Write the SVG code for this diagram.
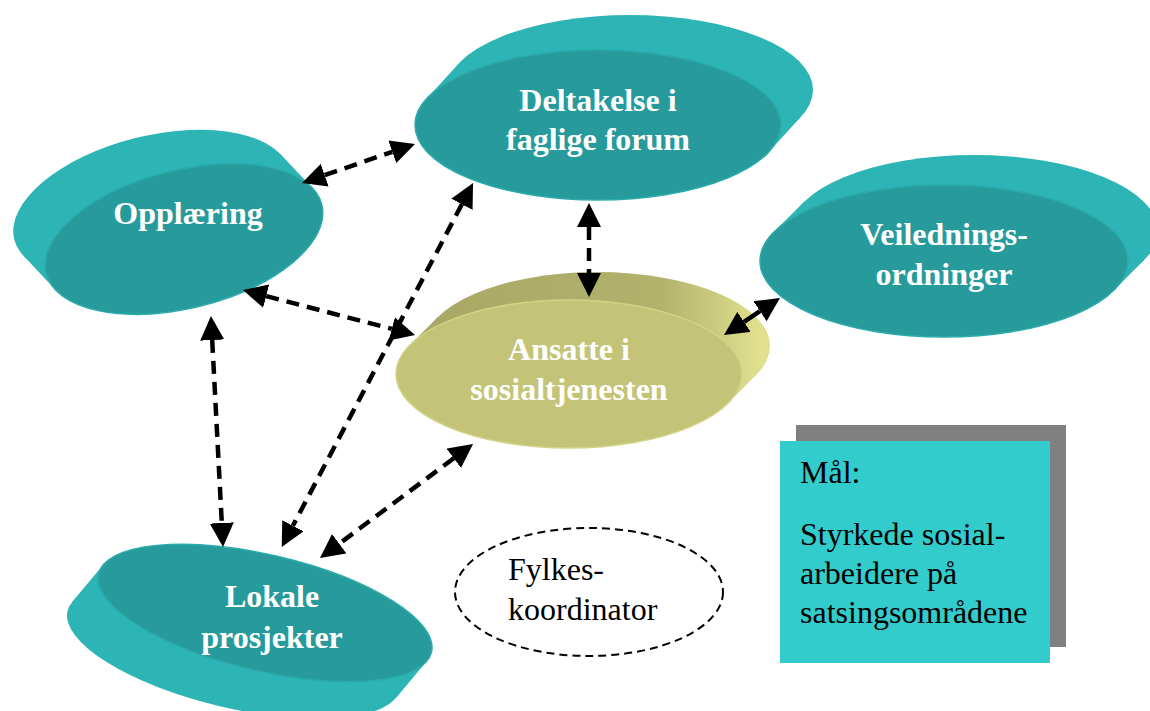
<svg xmlns="http://www.w3.org/2000/svg" width="1150" height="711" viewBox="0 0 1150 711">
  <style>
    .side { fill: #2DB4B4; }
    .front { fill: #279B9B; stroke: #2BAAAA; stroke-width: 1.5; }
    .yfront { fill: #C3C477; stroke: #D2D386; stroke-width: 1.5; }
    .lbl { font-family: "Liberation Serif", "Times New Roman", serif; font-weight: bold; font-size: 32px; fill: #FFFFFF; text-anchor: middle; }
    .txt { font-family: "Liberation Serif", "Times New Roman", serif; font-size: 32px; fill: #000000; }
    .conn { fill: none; stroke: #000; stroke-width: 4.5; stroke-dasharray: 13 8; }
  </style>
  <defs>
    <marker id="ah" markerWidth="24" markerHeight="24" viewBox="0 0 24 24" refX="0" refY="12" orient="auto-start-reverse" markerUnits="userSpaceOnUse">
      <path d="M0,0 L24,12 L0,24 z" fill="#000"/>
    </marker>
    <linearGradient id="yside" gradientUnits="userSpaceOnUse" x1="-160" y1="0" x2="190" y2="0">
      <stop offset="0" stop-color="#A8A765"/>
      <stop offset="0.72" stop-color="#B2B26D"/>
      <stop offset="1" stop-color="#E0E08F"/>
    </linearGradient>
  </defs>
  <rect width="1150" height="711" fill="#FFFFFF"/>

  <g id="node-deltakelse">
    <g transform="translate(598,125)">
      <ellipse class="side" cx="32" cy="-35" rx="183" ry="75"/>
      <polygon class="side" points="171.4,26.3 203.4,-8.7 -139.4,-61.3 -171.4,-26.3"/>
      <ellipse class="front" cx="0" cy="0" rx="183" ry="75"/>
    </g>
    <text class="lbl" x="598" y="111">Deltakelse i</text>
    <text class="lbl" x="598" y="150">faglige forum</text>
  </g>

  <g id="node-opplaering">
    <g transform="translate(184,239) rotate(-14)">
      <ellipse class="side" cx="-22.8" cy="-40.7" rx="142" ry="69"/>
      <polygon class="side" points="137,-18.1 114.2,-58.8 -159.8,-22.6 -137,18.1"/>
      <ellipse class="front" cx="0" cy="0" rx="142" ry="69"/>
    </g>
    <text class="lbl" x="188" y="224">Opplæring</text>
  </g>

  <g id="node-veiledning">
    <g transform="translate(944,261)">
      <ellipse class="side" cx="30" cy="-30" rx="184" ry="76"/>
      <polygon class="side" points="170.1,29 200.1,-1 -140.1,-59 -170.1,-29"/>
      <ellipse class="front" cx="0" cy="0" rx="184" ry="76"/>
    </g>
    <text class="lbl" x="944" y="245">Veilednings-</text>
    <text class="lbl" x="944" y="285">ordninger</text>
  </g>

  <g id="node-ansatte">
    <g transform="translate(569,374)">
      <ellipse fill="url(#yside)" cx="28" cy="-28" rx="173" ry="74"/>
      <polygon fill="url(#yside)" points="159.1,29.1 187.1,1.1 -131.1,-57.1 -159.1,-29.1"/>
      <ellipse class="yfront" cx="0" cy="0" rx="173" ry="74"/>
    </g>
    <text class="lbl" x="569" y="360">Ansatte i</text>
    <text class="lbl" x="569" y="400">sosialtjenesten</text>
  </g>

  <g id="node-lokale">
    <g transform="translate(265,613) rotate(13.2)">
      <ellipse class="side" cx="-21.7" cy="43.1" rx="171" ry="58"/>
      <polygon class="side" points="168.6,9.76 146.9,52.86 -190.3,33.34 -168.6,-9.76"/>
      <ellipse class="front" cx="0" cy="0" rx="171" ry="58"/>
    </g>
    <text class="lbl" x="272" y="607">Lokale</text>
    <text class="lbl" x="272" y="648">prosjekter</text>
  </g>

  <g id="node-fylkeskoordinator">
    <ellipse cx="589" cy="592" rx="134" ry="64" fill="none" stroke="#000" stroke-width="2" stroke-dasharray="8 5"/>
    <text class="txt" x="508" y="580">Fylkes-</text>
    <text class="txt" x="508" y="620">koordinator</text>
  </g>

  <g id="node-maal">
    <rect x="796" y="425" width="270" height="222" fill="#808080"/>
    <rect x="780" y="441" width="270" height="222" fill="#33CCCC"/>
    <text class="txt" x="800" y="483">Mål:</text>
    <text class="txt" x="800" y="545">Styrkede sosial-</text>
    <text class="txt" x="800" y="584">arbeidere på</text>
    <text class="txt" x="800" y="623">satsingsområdene</text>
  </g>

  <g id="connectors">
    <path class="conn" d="M324.7,175.2 L392.3,151.8" marker-start="url(#ah)" marker-end="url(#ah)"/>
    <path class="conn" d="M589,227 L589,273" marker-start="url(#ah)" marker-end="url(#ah)"/>
    <path class="conn" style="stroke-dasharray:none" d="M744,321.8 L760,311.2" marker-start="url(#ah)" marker-end="url(#ah)"/>
    <path class="conn" d="M266.2,296.1 L391.8,328.9" marker-start="url(#ah)" marker-end="url(#ah)"/>
    <path class="conn" d="M212.2,340 L221.8,523" marker-start="url(#ah)" marker-end="url(#ah)"/>
    <path class="conn" d="M461.9,204.3 L292.9,525.8" marker-start="url(#ah)" marker-end="url(#ah)"/>
    <path class="conn" d="M453.8,458.3 L339.2,543.7" marker-start="url(#ah)" marker-end="url(#ah)"/>
  </g>
</svg>
